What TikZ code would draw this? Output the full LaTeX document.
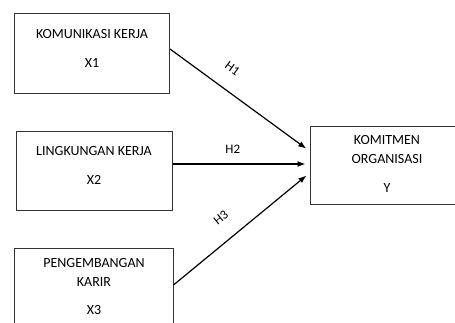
\documentclass[tikz,border=0pt]{standalone}
\usepackage{fontspec}
\setmainfont{Carlito}
\usetikzlibrary{arrows.meta}

\def\bw{155pt}
\def\bh{80pt}

\begin{document}
\begin{tikzpicture}[x=1pt,y=-1pt,
    vbox/.style={draw=black!80,line width=1pt,minimum width=\bw,minimum height=\bh,inner sep=0pt},
    vtext/.style={font=\fontsize{14}{14}\selectfont,inner sep=0pt},
    hpath/.style={-{Latex[length=8pt,width=6pt]},line width=1.2pt,shorten >=4pt},
    hlabel/.style={font=\fontsize{13}{13}\selectfont,inner sep=0pt,sloped}]
    \clip (0,0) rectangle (455,322);

    \node[vbox] (X1) at (92,53.5) {};
    \node[vbox,minimum width=156pt,minimum height=79pt] (X2) at (94,170.5) {};
    \node[vbox,minimum width=159pt,minimum height=84pt] (X3) at (93.5,290) {};
    \node[vbox,minimum height=78pt] (Y) at (387.5,165) {};

    \node[vtext] (t1) at (92,34) {KOMUNIKASI KERJA};
    \node[vtext] (x1) at (92,63) {X1};
    \node[vtext] (t2) at (94,151) {LINGKUNGAN KERJA};
    \node[vtext] (x2) at (94,180) {X2};
    \node[vtext] (t3) at (94,263) {PENGEMBANGAN};
    \node[vtext] (t3b) at (94,282) {KARIR};
    \node[vtext] (x3) at (94,310) {X3};
    \node[vtext] (ty) at (387,140) {KOMITMEN};
    \node[vtext] (tyb) at (387,159) {ORGANISASI};
    \node[vtext] (y) at (387,188) {Y};

    \draw[hpath] ([yshift=4.5pt]X1.east) -- node[hlabel,pos=0.36,above=16pt] {H1} ([yshift=14pt]Y.west);
    \draw[hpath] ([yshift=6.5pt]X2.east) -- node[hlabel,pos=0.44,above=10pt] {H2} ([yshift=1pt]Y.west);
    \draw[hpath] ([yshift=5pt]X3.east) -- node[hlabel,pos=0.45,above=17pt] {H3} ([yshift=-8pt]Y.west);

  \end{tikzpicture}
\end{document}
